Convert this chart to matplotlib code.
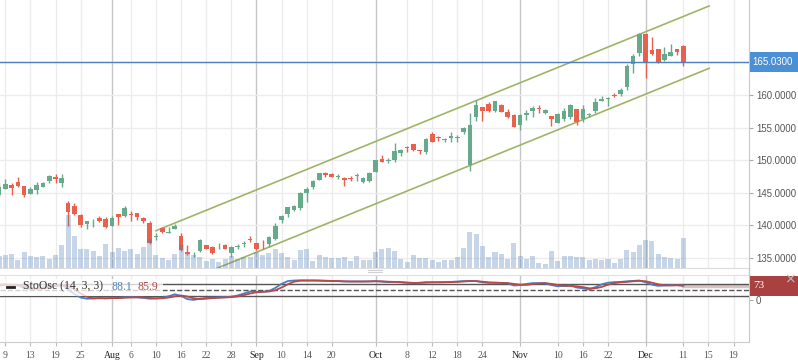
import matplotlib
matplotlib.use("Agg")
import matplotlib.pyplot as plt
import matplotlib.transforms as mtransforms
from matplotlib.patches import Rectangle
from matplotlib.lines import Line2D
import numpy as np

plt.rcParams['font.family'] = ['Liberation Serif', 'DejaVu Serif']

# daily bars, Jul 6 .. Dec 11
opens = [
    144.66, 145.58, 146.20, 146.61, 146.04, 144.77, 145.43, 145.84, 146.86, 147.47,
    146.55, 143.39, 142.97, 141.59, 140.21, 140.47, 141.18, 140.98, 139.95, 141.70,
    141.52, 141.64, 141.86, 141.09, 140.41, 138.22, 139.55, 138.90, 139.45, 138.37,
    135.87, 135.41, 136.07, 136.99, 136.73, 136.79, 136.99, 135.81, 136.69, 137.21,
    137.91, 137.25, 136.89, 137.15, 137.87, 140.83, 141.75, 142.36, 142.71, 145.02,
    145.84, 146.96, 148.08, 147.84, 147.42, 147.32, 147.27, 147.53, 146.70, 146.81,
    148.24, 150.18, 149.83, 150.03, 151.15, 152.07, 152.44, 151.57, 151.21, 153.97,
    153.50, 153.05, 153.36, 153.41, 154.37, 149.26, 156.67, 158.11, 158.62, 157.55,
    158.47, 157.44, 156.93, 155.40, 156.93, 157.55, 157.99, 157.28, 156.78, 155.75,
    156.32, 156.67, 157.85, 156.27, 156.89, 157.55, 159.13, 159.34, 159.94, 160.15,
    161.27, 164.71, 166.49, 169.36, 166.90, 167.05, 165.37, 165.98, 167.05, 167.51,
]
highs = [
    146.50, 147.12, 146.46, 147.38, 146.04, 145.84, 146.61, 146.61, 147.73, 147.84,
    147.88, 143.74, 143.39, 141.70, 140.67, 140.94, 141.44, 141.33, 141.52, 141.70,
    142.97, 142.28, 141.86, 141.33, 140.67, 138.79, 139.71, 139.71, 140.17, 138.79,
    137.00, 136.00, 137.87, 137.07, 136.89, 137.25, 137.10, 136.83, 137.15, 137.61,
    138.37, 137.30, 137.76, 138.37, 140.32, 141.59, 142.78, 143.13, 145.17, 145.84,
    146.96, 148.08, 148.24, 148.08, 147.88, 147.40, 147.58, 148.08, 147.47, 148.14,
    150.10, 150.80, 150.29, 152.59, 151.72, 152.18, 152.50, 151.60, 153.36, 154.28,
    153.76, 153.45, 154.28, 153.86, 155.14, 157.19, 159.23, 158.15, 158.97, 159.12,
    158.57, 157.81, 157.04, 157.04, 157.70, 158.31, 158.47, 157.81, 156.85, 157.28,
    157.96, 158.62, 157.90, 158.47, 157.28, 159.49, 159.89, 159.74, 160.35, 161.03,
    164.71, 166.24, 169.55, 169.55, 168.94, 167.10, 167.32, 167.82, 167.10, 167.67,
]
lows = [
    144.40, 145.58, 144.66, 145.94, 144.40, 144.77, 144.82, 145.84, 146.46, 146.55,
    145.94, 139.95, 141.59, 139.80, 139.45, 139.80, 140.60, 139.55, 139.95, 140.06,
    141.33, 140.75, 140.83, 140.32, 137.20, 137.76, 138.83, 138.90, 139.45, 136.10,
    135.46, 135.11, 136.00, 136.38, 135.61, 136.38, 136.38, 135.11, 136.33, 136.73,
    137.50, 136.30, 136.38, 136.73, 137.76, 140.40, 141.33, 142.21, 142.36, 143.63,
    145.58, 146.90, 147.38, 147.35, 147.07, 146.09, 146.86, 146.86, 146.46, 146.70,
    148.14, 149.68, 149.52, 149.77, 150.69, 151.30, 151.41, 150.90, 150.95, 152.75,
    152.99, 152.75, 152.75, 152.75, 153.97, 148.34, 156.01, 156.01, 157.44, 157.44,
    157.35, 156.43, 155.05, 154.63, 156.17, 156.67, 157.28, 157.09, 155.24, 155.70,
    156.06, 156.32, 155.40, 155.90, 156.58, 157.19, 159.08, 158.31, 159.65, 159.85,
    160.77, 163.42, 165.98, 162.65, 166.20, 164.95, 165.21, 165.95, 166.13, 164.45,
]
closes = [
    145.94, 146.35, 145.78, 146.04, 144.66, 145.58, 146.20, 146.46, 147.58, 147.16,
    147.22, 142.10, 141.70, 140.06, 140.67, 140.57, 140.67, 139.80, 141.18, 141.33,
    142.62, 141.55, 141.33, 140.72, 137.25, 138.33, 138.94, 139.00, 139.91, 136.23,
    135.57, 135.51, 137.76, 136.40, 135.81, 136.87, 136.40, 136.73, 136.78, 137.30,
    137.71, 136.38, 136.79, 138.17, 139.91, 141.44, 142.78, 142.97, 144.92, 145.58,
    146.86, 147.99, 147.73, 147.40, 147.52, 146.96, 147.18, 147.62, 147.22, 147.99,
    150.03, 149.77, 149.92, 151.41, 151.57, 151.82, 151.57, 151.46, 153.25, 152.84,
    153.41, 153.14, 153.71, 153.50, 154.98, 155.40, 158.47, 157.55, 157.55, 159.08,
    157.44, 156.58, 155.14, 156.93, 157.28, 158.05, 157.91, 157.70, 156.32, 157.09,
    157.59, 158.47, 155.90, 157.85, 156.98, 158.88, 159.39, 159.59, 159.85, 160.77,
    164.45, 165.98, 169.31, 164.95, 166.29, 165.11, 166.29, 166.64, 166.64, 165.03,
]
volume = [
    11.7, 12.7, 14.4, 8.4, 15.7, 11.7, 10.7, 11.7, 9.4, 13.4,
    22.7, 52.7, 31.7, 18.7, 18.7, 17.4, 12.4, 23.7, 15.7, 19.7,
    16.7, 18.7, 13.7, 20.7, 29.4, 12.7, 10.0, 7.7, 13.7, 23.4,
    14.4, 12.7, 10.7, 6.7, 8.7, 5.7, 8.7, 11.7, 8.7, 10.7,
    10.7, 16.0, 13.3, 15.0, 19.3, 15.3, 11.3, 8.3, 18.0, 19.3,
    7.3, 13.3, 11.3, 10.3, 10.3, 11.3, 7.3, 12.3, 8.3, 8.3,
    16.3, 19.3, 20.3, 17.3, 9.3, 6.3, 13.3, 10.3, 10.3, 8.3,
    6.3, 8.3, 8.3, 11.3, 20.3, 36.3, 34.3, 22.3, 11.3, 16.3,
    14.3, 9.3, 25.3, 12.3, 9.3, 12.0, 5.0, 3.7, 17.0, 7.0,
    12.0, 12.0, 11.0, 11.0, 8.3, 9.3, 8.3, 9.3, 5.0, 9.3,
    18.0, 16.0, 23.0, 28.0, 27.0, 14.3, 11.0, 10.0, 9.0, 30.0,
]
stoch_k = [
    78, 80, 76, 74, 62, 55, 58, 64, 72, 76,
    78, 55, 32, 14, 8, 9, 12, 10, 11, 12,
    15, 16, 15, 12, 8, 9, 12, 20, 30, 22,
    6, 2, 8, 12, 13, 14, 16, 18, 24, 34,
    44, 42, 42, 46, 62, 82, 96, 99, 100, 99,
    99, 98, 97, 96, 96, 94, 94, 94, 94, 95,
    96, 93, 91, 92, 90, 87, 86, 88, 91, 90,
    90, 91, 92, 94, 96, 97, 96, 90, 87, 88,
    87, 85, 74, 76, 82, 86, 86, 85, 76, 70,
    72, 74, 64, 60, 54, 66, 80, 88, 91, 92,
    95, 97, 99, 90, 78, 72, 74, 76, 76, 74,
]
stoch_d = [
    74, 77, 78, 77, 70, 63, 58, 59, 65, 71,
    75, 70, 55, 34, 18, 10, 10, 10, 11, 11,
    13, 14, 15, 14, 12, 10, 10, 14, 20, 24,
    19, 10, 6, 8, 11, 13, 14, 16, 19, 26,
    34, 40, 43, 44, 50, 64, 80, 93, 98, 99,
    99, 99, 98, 97, 96, 95, 94, 94, 94, 94,
    95, 95, 93, 92, 91, 89, 87, 87, 88, 90,
    90, 90, 91, 92, 94, 96, 96, 93, 90, 88,
    87, 86, 82, 78, 77, 81, 84, 86, 82, 77,
    72, 72, 70, 66, 60, 60, 67, 78, 86, 90,
    92, 95, 97, 95, 88, 80, 75, 74, 75, 73,
]
stoch_legend = [88.1, 85.9]

# trend channel drawn on the chart (bar index, price)
channel_x = [25, 113.1]
channel_upper = [139.19, 173.65]
channel_width = 9.56

tick_labels = ['9', '13', '19', '25', 'Aug', '6', '10', '16', '22', '28', 'Sep', '10', '14',
               '20', 'Oct', '8', '12', '18', '24', 'Nov', '10', '16', '22', 'Dec', '11', '15', '19']
tick_bars = [1, 5, 9, 13, 18, 21, 25, 29, 33, 37, 41, 45, 49,
             53, 60, 65, 69, 73, 77, 83, 89, 93, 97, 103, 109, 113, 117]
price_ticks = [135, 140, 145, 150, 155, 160]
grid_prices = [135, 140, 145, 150, 155, 160, 165]

GREEN = '#67a98b'
RED = '#e9604d'
CHANNEL = '#9fb466'
BLUE_LINE = '#4e80bf'
BADGE_BLUE = '#4b8fd5'
K_COLOR = '#4a7fc0'
D_COLOR = '#b8484a'
SANS = ['Liberation Sans', 'DejaVu Sans']

W, H = 798, 363
fig = plt.figure(figsize=(W / 100, H / 100), dpi=100)


def fx(px):
    return px / W


def fy(py):
    return 1 - py / H


ax = fig.add_axes([0, fy(268), fx(749), 268 / H])
osc = fig.add_axes([0, fy(342.3), fx(749), (342.3 - 275) / H], sharex=ax)

x = np.arange(len(closes))
o = np.array(opens)
h = np.array(highs)
l = np.array(lows)
c = np.array(closes)
colors = np.where(c >= o, GREEN, RED)

# volume on its own scale (twinx first, it moves the price ticks to the left)
vax = ax.twinx()
vax.bar(x, volume, 0.8, color=(0.27, 0.47, 0.71), alpha=0.3, lw=0)
vax.set_ylim(0, max(volume) / 0.197)
vax.axis('off')

# grid
for xb, lab in zip(tick_bars, tick_labels):
    col = '#c6c6c6' if lab.isalpha() else '#ececec'
    ax.axvline(xb, color=col, lw=1, zorder=0)
    osc.axvline(xb, color=col, lw=1, zorder=0)
for p in grid_prices:
    ax.axhline(p, color='#ececec', lw=1, zorder=0)

# candles
ax.vlines(x, l, h, color=colors, lw=1, zorder=3)
body = np.maximum(np.abs(c - o), 0.13)
ax.bar(x, body, 0.74, np.minimum(o, c), color=colors, lw=0, zorder=3)

# channel
ax.plot(channel_x, channel_upper, color=CHANNEL, lw=1.2, zorder=2)
ax.plot(channel_x, [p - channel_width for p in channel_upper], color=CHANNEL, lw=1.2, zorder=2)

# last price
last = closes[-1]
ax.axhline(last, color=BLUE_LINE, lw=1, zorder=4)
tr = mtransforms.blended_transform_factory(ax.transAxes, ax.transData)
ax.add_patch(Rectangle((1.0015, last - 10 / 6.52), 48 / 749, 20 / 6.52, transform=tr,
                       facecolor=BADGE_BLUE, edgecolor='none', clip_on=False, zorder=5))
ax.text(1.004, last, f'{last:.4f}', transform=tr, color='white', fontsize=7,
        family=SANS, va='center', ha='left', zorder=6)

ax.set_xlim(0.156, 119.46)
ax.set_ylim(133.47, 174.57)
ax.yaxis.tick_right()
ax.yaxis.set_label_position('right')
ax.set_yticks(price_ticks)
ax.set_yticklabels([f'{p:.4f}' for p in price_ticks], family=SANS)
ax.tick_params(axis='y', left=False, labelleft=False, right=True, labelright=True,
               length=3, color='#aaaaaa', labelsize=6.9, labelcolor='#555555', pad=2)
ax.tick_params(axis='x', bottom=False, labelbottom=False)
for s in ['top', 'left']:
    ax.spines[s].set_visible(False)
ax.spines['bottom'].set_color('#dddddd')
ax.spines['right'].set_color('#c8c8c8')

# stochastic
osc.plot([x[-1], 119.5], [stoch_d[-1], stoch_d[-1]], color='#dcc3c3', lw=2.5, zorder=1)
for lvl, ls in [(80, '-'), (50, '--'), (20, '-')]:
    osc.axhline(lvl, color='#555555', lw=1, ls=ls, zorder=2)
osc.plot(x, stoch_k, color=K_COLOR, lw=1.3, zorder=3)
osc.plot(x, stoch_d, color=D_COLOR, lw=1.3, zorder=3)
osc.set_ylim(-210, 126.5)
osc.yaxis.tick_right()
osc.set_yticks([0])
osc.set_yticklabels(['0'], family=SANS)
osc.tick_params(axis='y', length=3, color='#aaaaaa', labelsize=6.9, labelcolor='#555555', pad=2)
osc.set_xticks(tick_bars)
osc.set_xticklabels(tick_labels)
osc.tick_params(axis='x', length=3, color='#bbbbbb', labelsize=7, labelcolor='#555555', pad=3)
for t in osc.get_xticklabels():
    if t.get_text().isalpha():
        t.set_color('#222222')
osc.spines['left'].set_visible(False)
osc.spines['top'].set_color('#e0e0e0')
osc.spines['bottom'].set_color('#cccccc')
osc.spines['right'].set_color('#c8c8c8')

otr = mtransforms.blended_transform_factory(osc.transAxes, osc.transData)
osc.add_patch(Rectangle((1.0015, stoch_d[-1] - 50), 48 / 749, 100, transform=otr,
                        facecolor='#a8413f', edgecolor='none', clip_on=False, zorder=5))
osc.text(1.006, stoch_d[-1], f'{stoch_d[-1]:.0f}', transform=otr, color='white', fontsize=8,
         va='center', ha='left', zorder=6)
fig.text(fx(790), fy(279), '×', color='#bbbbbb', fontsize=10, ha='center', va='center',
         family=['DejaVu Sans'])

# legend
fig.add_artist(Rectangle((0, fy(296)), fx(163), 17 / H, transform=fig.transFigure,
                         facecolor='white', alpha=0.75, edgecolor='none'))
fig.add_artist(Line2D([fx(7), fx(14)], [fy(286.5)] * 2, color='#222222', lw=2))
fig.text(fx(23), fy(286.5), 'StoOsc (14, 3, 3)', fontsize=8.5, color='#333333', va='center')
fig.text(fx(111), fy(286.5), f'{stoch_legend[0]}', fontsize=8.5, color=K_COLOR, va='center')
fig.text(fx(138), fy(286.5), f'{stoch_legend[1]}', fontsize=8.5, color=D_COLOR, va='center')

# pane separators
fig.add_artist(Line2D([fx(749)] * 2, [fy(268), fy(275)], color='#c8c8c8', lw=1))
for yy in [269.5, 271.5]:
    fig.add_artist(Line2D([fx(368), fx(382)], [fy(yy)] * 2, color='#d0d0d0', lw=0.8))

fig.savefig('out.png', dpi=100)
